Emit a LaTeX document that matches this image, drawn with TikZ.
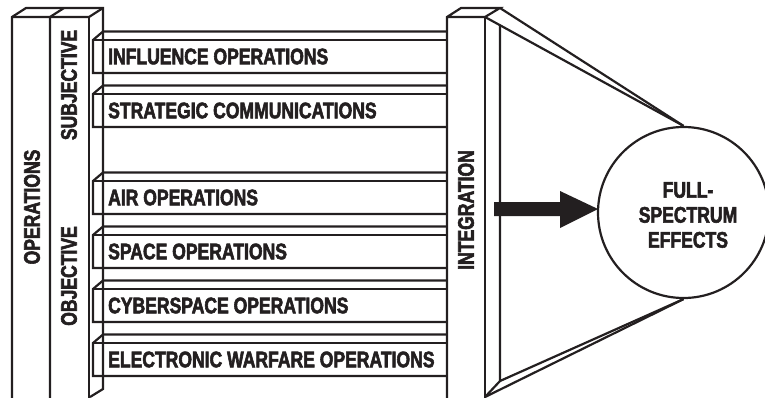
\documentclass[tikz,border=0pt]{standalone}
\usepackage{fontspec}
\font\condfont="Liberation Sans/B:extend=0.78;embolden=2.5" at 22.5pt
\newcommand\lblfont{\condfont\baselineskip=25pt\relax}
\definecolor{ink}{HTML}{231F20}
\begin{document}
\begin{tikzpicture}[x=1pt,y=-1pt,
  edge/.style={draw=ink, line width=2.2pt, line join=miter},
  lbl/.style={text=ink, font=\lblfont, inner sep=0pt}]
\useasboundingbox (0,0) rectangle (765,397);
\clip (0,0) rectangle (765,397);
% left columns
\draw[edge] (12,400) -- (12,17) -- (26,8) -- (103,8) -- (103,389) -- (90,397);
\draw[edge] (50,400) -- (50,17) -- (64,8);
\draw[edge] (12,17) -- (89,17) -- (103,8);
\draw[edge] (89,17) -- (89,400);
% bars
\foreach \t in {40,94,181,235,289,343}{
  \draw[edge] (447,\t-8.5) -- (103,\t-8.5) -- (93,\t) -- (93,\t+33) -- (447,\t+33);
  \draw[edge] (93,\t) -- (447,\t);
}
% integration column
\draw[edge] (447,400) -- (447,17) -- (461,8) -- (500,8) -- (485,17) -- (447,17);
\draw[edge] (485,17) -- (485,400);
\draw[edge] (500,25.3) -- (500,381) -- (485,397);
% circle
\node[circle, draw=ink, line width=2.2pt, minimum size=171pt, inner sep=0pt] (fse) at (683.5,212.5) {};
% funnel
\draw[edge] (500,8) -- (fse.north);
\draw[edge] (485,17) -- (fse.north);
\draw[edge] (485,397) -- (fse.south);
\draw[edge] (500,381) -- (fse.south);
% arrow
\coordinate (tip) at (598,209);
\fill[ink] (494,202) -- (560,202) -- (560,191) -- (tip) -- (560,228) -- (560,216) -- (494,216) -- cycle;
% labels
\node[lbl, rotate=90] (ops) at (32,207) {OPERATIONS};
\node[lbl, rotate=90] (subj) at (69,85) {SUBJECTIVE};
\node[lbl, rotate=90] (obj) at (69,276) {OBJECTIVE};
\node[lbl, rotate=90] (integ) at (466,210) {INTEGRATION};
\node[lbl, anchor=west] (b1) at (108,56.5) {INFLUENCE OPERATIONS};
\node[lbl, anchor=west] (b2) at (108,110.5) {STRATEGIC COMMUNICATIONS};
\node[lbl, anchor=west] (b3) at (108,197.5) {AIR OPERATIONS};
\node[lbl, anchor=west] (b4) at (108,251.5) {SPACE OPERATIONS};
\node[lbl, anchor=west] (b5) at (108,305.5) {CYBERSPACE OPERATIONS};
\node[lbl, anchor=west] (b6) at (108,359.5) {ELECTRONIC WARFARE OPERATIONS};
\node[lbl, align=center] (fsetext) at (688,215) {FULL-\\SPECTRUM\\EFFECTS};
\end{tikzpicture}
\end{document}
